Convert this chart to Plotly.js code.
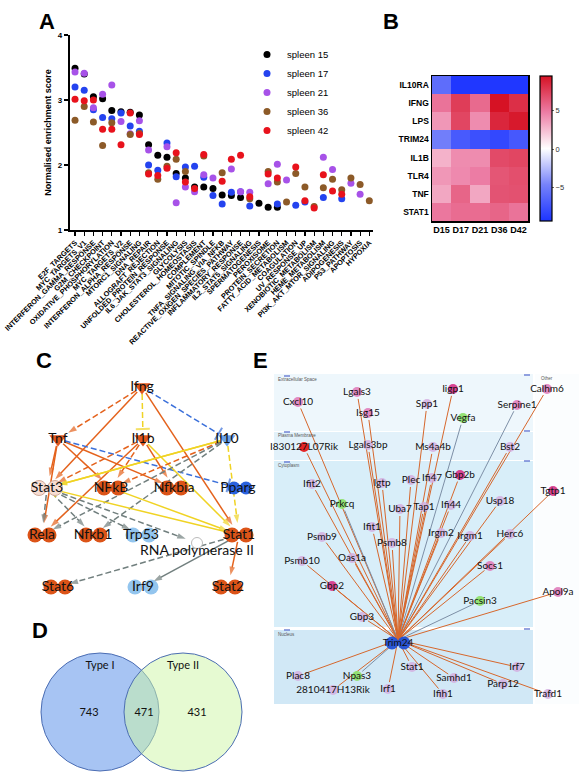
<!DOCTYPE html>
<html><head><meta charset="utf-8">
<script src="https://cdn.plot.ly/plotly-3.0.1.min.js"></script>
<style>html,body{margin:0;padding:0;background:#fff}</style>
</head><body><div id="chart" style="width:579px;height:784px"></div>
<script>
// ---------------- Panel A data ----------------
const hallmarks = ['E2F_TARGETS','MYC_TARGETS_V1','INTERFERON_GAMMA_RESPONSE','G2M_CHECKPOINT','OXIDATIVE_PHOSPHORYLATION','MYC_TARGETS_V2','INTERFERON_ALPHA_RESPONSE','MTORC1_SIGNALING','DNA_REPAIR','ALLOGRAFT_REJECTION','UNFOLDED_PROTEIN_RESPONSE','IL6_JAK_STAT3_SIGNALING','GLYCOLYSIS','CHOLESTEROL_HOMEOSTASIS','COMPLEMENT','MITOTIC_SPINDLE','TNFA_SIGNALING_VIA_NFKB','REACTIVE_OXIGEN_SPECIES_PATHWAY','INFLAMMATORY_RESPONSE','IL2_STAT5_SIGNALING','SPERMATOGENESIS','PEROXISOME','PROTEIN_SECRETION','FATTY_ACID_METABOLISM','COAGULATION','UV_RESPONSE_UP','XENOBIOTIC_METABOLISM','HEME_METABOLISM','PI3K_AKT_MTOR_SIGNALING','ADIPOGENESIS','P53_PATHWAY','APOPTOSIS','HYPOXIA'];
const spleen15 = [3.49,3.40,3.05,3.02,2.84,2.82,2.81,2.77,2.31,2.15,2.12,1.87,1.80,1.66,1.66,1.64,1.54,1.53,1.50,null,1.41,1.35,1.35,null,null,null,null,null,null,null,null,null,null];
const spleen17 = [3.20,3.15,2.85,2.73,2.71,2.80,2.60,2.52,2.00,1.92,2.34,1.82,1.97,1.98,1.81,1.53,1.40,1.58,1.59,1.37,null,null,1.40,null,1.38,1.43,null,1.50,null,1.48,null,null,null];
const spleen21 = [3.43,3.41,2.88,3.09,3.23,2.67,2.48,2.68,2.23,null,2.28,1.42,1.66,1.59,1.85,1.80,null,1.94,1.59,1.58,null,1.71,2.01,1.77,null,null,null,2.12,1.93,null,1.72,1.55,null];
const spleen36 = [2.69,2.90,2.66,2.30,2.65,null,2.47,2.49,1.88,1.78,1.98,2.09,1.90,null,2.14,null,1.88,null,null,1.48,null,1.90,1.74,1.43,1.87,1.66,1.36,1.65,1.78,1.62,1.80,1.70,1.45];
const spleen42 = [3.01,2.99,3.00,2.55,2.55,2.31,2.80,2.47,1.86,1.84,1.95,2.19,1.74,1.64,2.16,null,1.75,2.09,2.15,1.51,null,1.86,1.80,null,1.97,1.45,1.34,1.85,1.60,1.55,null,null,null];
const seriesNames = ['spleen 15','spleen 17','spleen 21','spleen 36','spleen 42'];
const seriesValues = [spleen15, spleen17, spleen21, spleen36, spleen42];
const seriesColors = ['#000000','#2443ef','#a752e8','#8c5a28','#e8121c'];

// ---------------- Panel B data ----------------
const genes = ['IL10RA','IFNG','LPS','TRIM24','IL1B','TLR4','TNF','STAT1'];
const days = ['D15','D17','D21','D36','D42'];
const zIL10RA = [-6.0,-9.3,-9.3,-9.3,-9.3];
const zIFNG   = [5.2,7.6,5.6,9.5,8.2];
const zLPS    = [3.8,7.2,4.2,8.6,9.2];
const zTRIM24 = [-5.0,-7.2,-7.8,-8.3,-7.3];
const zIL1B   = [2.8,4.2,4.2,7.0,7.2];
const zTLR4   = [3.8,4.3,4.8,6.5,6.8];
const zTNF    = [3.2,5.8,3.2,6.6,6.7];
const zSTAT1  = [5.0,5.5,5.5,5.8,5.2];

// ---------------- Panel C network ----------------
const cNodeNames = ['Ifng','Tnf','Il1b','Il10','Stat3','NFkB','Nfkbia','Pparg','Rela','Nfkb1','Trp53','Stat1','RNA polymerase II','Stat6','Irf9','Stat2'];
const cNodeX = [142,58,143,227,47,111,174,238,42,93,141,239,197,58,143,228];
const cNodeY = [387,439,439,439,488,488,488,488,535,535,535,535,543,587,587,587];
const cNodeKind = ['cytoO','cytoO','cytoO','cytoB','tfP','tfO','tfO','recB','tfO','tfO','tfLB','tfO','pol','tfO','tfLB','tfO'];
const cEdgeFrom = ['Ifng','Ifng','Ifng','Ifng','Ifng','Tnf','Tnf','Tnf','Tnf','Tnf','Il1b','Il1b','Il1b','Il1b','Il1b','Il10','Il10','Il10','Il10','Il10','Il10','Stat3','Stat3','Stat3','Stat3','Stat1','NFkB','Stat1','Stat1','Stat1'];
const cEdgeTo   = ['Tnf','Il1b','Il10','Stat3','Stat1','Stat3','Rela','NFkB','Nfkbia','Pparg','Stat3','NFkB','Rela','Nfkbia','Stat1','Stat3','NFkB','Rela','Nfkb1','Stat1','Stat3','Rela','Nfkb1','Trp53','RNA polymerase II','Stat3','Stat1','Stat6','Irf9','Stat2'];
const cEdgeStyle= ['od>','yd|','bd|','os>','os>','os>','os>','os>','os>','bd|','od>','od>','os>','os>','ys>','ys>','od>','gd>','gd>','yd>','ys>','gd>','gd>','gd>','gd>','ys|','ys>','gd>','gs>','os>'];

// ---------------- Panel D venn ----------------
const vennSets = ['Type I','Type II'];
const vennCounts = [743, 471, 431];

// ---------------- Panel E network ----------------
const eNodeNames = ['Cxcl10','Lgals3','Isg15','Iigp1','Spp1','Vegfa','Serpine1','Calhm6','I830127L07Rik','Lgals3bp','Ms4a4b','Bst2','Ifit2','Igtp','Plec','Ifi47','Gbp2b','Tgtp1','Prkcq','Uba7','Tap1','Ifi44','Usp18','Ifit1','Psmb9','Psmb8','Irgm2','Irgm1','Herc6','Psmb10','Oas1a','Socs1','Gbp2','Apol9a','Pacsin3','Gbp3','Trim24','Plac8','Npas3','2810417H13Rik','Irf1','Stat1','Samhd1','Ifih1','Irf7','Parp12','Trafd1'];
const eNodeX = [298,357,368,453,427,463,517,547,304,368,433,510,312,382,411,432,460,553,342,400,424,451,500,372,322,392,441,470,510,302,352,490,332,558,480,362,398,298,357,333,388,412,454,443,517,503,548];
const eNodeY = [402,392,413,389,404,418,405,389,447,445,447,447,484,483,480,478,475,491,504,509,507,505,501,527,537,543,533,536,534,561,558,566,586,592,601,617,643,676,676,690,689,667,678,694,667,684,694];
const eNodeKind = ['k','k','k','m','p','g','k','k','r','p','p','p','p','p','p','p','m','m','g','p','p','p','p','p','p','p','p','p','p','p','p','k','m','k','g','p','b','p','g','p','p','p','p','p','p','p','p'];
const eGreyEdges = ['Vegfa','Serpine1','Pacsin3','Prkcq','Npas3'];

// ---------------- build ----------------
const traces = [];
seriesNames.forEach((n,i)=>{
  traces.push({type:'scatter', mode:'markers', name:n, x:hallmarks, y:seriesValues[i],
    marker:{color:seriesColors[i], size:7}, xaxis:'x', yaxis:'y', cliponaxis:false});
});
traces.push({type:'heatmap', x:days, y:genes, z:[zIL10RA,zIFNG,zLPS,zTRIM24,zIL1B,zTLR4,zTNF,zSTAT1],
  xaxis:'x2', yaxis:'y2', zmin:-9.5, zmax:9.5, showlegend:false,
  colorscale:[[0,'rgb(28,52,255)'],[0.25,'rgb(118,130,250)'],[0.5,'rgb(255,255,255)'],[0.75,'rgb(236,125,165)'],[1,'rgb(214,18,36)']],
  colorbar:{x:540/579, xanchor:'left', xpad:0, ypad:0, y:1-149/784, yanchor:'middle', len:145/784, lenmode:'fraction',
    thickness:12, outlinewidth:1.2, outlinecolor:'#000', tickvals:[-5,0,5], ticks:'outside', ticklen:2, tickcolor:'#666',
    tickfont:{size:7.5, color:'#333'}}});

function shorten(x1,y1,x2,y2,d1,d2){
  const dx=x2-x1, dy=y2-y1, L=Math.hypot(dx,dy);
  return [x1+dx*d1/L, y1+dy*d1/L, x2-dx*d2/L, y2-dy*d2/L];
}
const cColor = {o:'#e4621c', y:'#f0d324', b:'#3b70da', g:'#717f7e'};
const cIdx = n => cNodeNames.indexOf(n);
cEdgeFrom.forEach((f,i)=>{
  const a=cIdx(f), b=cIdx(cEdgeTo[i]), st=cEdgeStyle[i];
  const col=cColor[st[0]], dash=st[1]==='d'?'6px,3px':'solid', end=st[2];
  const s=shorten(cNodeX[a],cNodeY[a],cNodeX[b],cNodeY[b],7, end==='>'?12:10);
  traces.push({type:'scatter', mode:'lines+markers', x:[s[0],s[2]], y:[s[1],s[3]], xaxis:'x3', yaxis:'y3',
    showlegend:false, hoverinfo:'skip', line:{color:col, width:1.5, dash:dash},
    marker:{symbol:['circle', end==='>'?'arrow':'line-ew'], size:[0, end==='>'?9:10], angleref:'previous',
      color:col, line:{color:col, width:[0, end==='>'?0:2]}}});
});
// C glyphs
const glyphStyle = {
  cytoO:{dx:[0], sym:'triangle-down', size:15, color:'#e0561c'},
  cytoB:{dx:[0], sym:'triangle-down', size:15, color:'#6aa1e8'},
  tfO:{dx:[-7,7], sym:'circle', size:15, color:'#dc5418'},
  tfP:{dx:[-8,8], sym:'circle', size:15, color:'#f7ddd2'},
  tfLB:{dx:[-8,8], sym:'circle', size:15, color:'#93c5ee'},
  recB:{dx:[-4,8], sym:'circle', size:13, color:'#2a62de'},
  pol:{dx:[0], sym:'circle', size:11, color:'#ffffff'}
};
Object.keys(glyphStyle).forEach(k=>{
  const g=glyphStyle[k], xs=[], ys=[];
  cNodeKind.forEach((kk,i)=>{ if(kk===k){ g.dx.forEach(d=>{xs.push(cNodeX[i]+d); ys.push(cNodeY[i]);}); }});
  traces.push({type:'scatter', mode:'markers', x:xs, y:ys, xaxis:'x3', yaxis:'y3', showlegend:false, hoverinfo:'skip',
    marker:{symbol:g.sym, size:g.size, color:g.color, line:{color: k==='pol'?'#bbbbbb':(k==='tfP'?'#d2aa9a':g.color), width:k==='pol'||k==='tfP'?1:0}}});
});
traces.push({type:'scatter', mode:'text', x:cNodeX, y:cNodeY.map((y,i)=>cNodeNames[i]==='RNA polymerase II'?y+8:y),
  text:cNodeNames, xaxis:'x3', yaxis:'y3', showlegend:false, hoverinfo:'skip',
  textfont:{family:'Lato, Noto Sans, sans-serif', size:14, color:'#111'}});

// D venn text
traces.push({type:'scatter', mode:'text', x:[100,183,89,144,197], y:[666,666,713,713,713],
  text:[vennSets[0], vennSets[1]].concat(vennCounts.map(String)), xaxis:'x3', yaxis:'y3', showlegend:false, hoverinfo:'skip',
  textfont:{family:'Lato, Noto Sans, sans-serif', size:11, color:'#111'}});

// E edges
const ti = eNodeNames.indexOf('Trim24');
eNodeNames.forEach((n,i)=>{
  if(i===ti) return;
  const s=shorten(eNodeX[ti],eNodeY[ti]-3,eNodeX[i],eNodeY[i],0,7);
  const col = eGreyEdges.includes(n)?'#7d8fa6':'#d6672c';
  traces.push({type:'scatter', mode:'lines', x:[s[0],s[2]], y:[s[1],s[3]], xaxis:'x3', yaxis:'y3',
    showlegend:false, hoverinfo:'skip', line:{color:col, width:1}});
});
const eGlyph = {p:'#d3afe0', k:'#e084bf', m:'#d63a8c', g:'#8fe06e', r:'#e41a1c', b:'#2150d6'};
Object.keys(eGlyph).forEach(k=>{
  const xs=[], ys=[];
  eNodeKind.forEach((kk,i)=>{ if(kk===k){ if(k==='b'){xs.push(eNodeX[i]-6, eNodeX[i]+6); ys.push(eNodeY[i],eNodeY[i]);} else {xs.push(eNodeX[i]); ys.push(eNodeY[i]);} }});
  traces.push({type:'scatter', mode:'markers', x:xs, y:ys, xaxis:'x3', yaxis:'y3', showlegend:false, hoverinfo:'skip',
    marker:{symbol:'circle', size:k==='b'?13:10, color:eGlyph[k], opacity:k==='p'?0.85:0.95}});
});
traces.push({type:'scatter', mode:'text', x:eNodeX, y:eNodeY, text:eNodeNames, xaxis:'x3', yaxis:'y3',
  showlegend:false, hoverinfo:'skip', textfont:{family:'Lato, Noto Sans, sans-serif', size:10, color:'#111'}});

const shapes = [
  {type:'circle', xref:'x3', yref:'y3', x0:41, x1:159, y0:653, y1:771, fillcolor:'#a7c4f3', line:{color:'#4b6db3', width:1}, layer:'below'},
  {type:'circle', xref:'x3', yref:'y3', x0:124, x1:242, y0:653, y1:771, fillcolor:'rgba(205,245,165,0.5)', line:{color:'#4b6db3', width:1}, layer:'below'},
  {type:'rect', xref:'x3', yref:'y3', x0:274, x1:533, y0:374, y1:431, fillcolor:'#eef7fc', line:{width:0}, layer:'below'},
  {type:'rect', xref:'x3', yref:'y3', x0:274, x1:533, y0:432, y1:460, fillcolor:'#e2f1fa', line:{width:0}, layer:'below'},
  {type:'rect', xref:'x3', yref:'y3', x0:274, x1:533, y0:461, y1:627, fillcolor:'#d8eef9', line:{width:0}, layer:'below'},
  {type:'rect', xref:'x3', yref:'y3', x0:274, x1:533, y0:630, y1:704, fillcolor:'#d1e8f6', line:{width:0}, layer:'below'},
  {type:'rect', xref:'x3', yref:'y3', x0:535, x1:579, y0:374, y1:704, fillcolor:'#fbfdfe', line:{width:0}, layer:'below'}
];
[375,431,461,629].forEach(y=>{
  shapes.push({type:'line', xref:'x3', yref:'y3', x0:524, x1:530, y0:y, y1:y, line:{color:'#5d72d0', width:1.3}, layer:'below'});
  shapes.push({type:'line', xref:'x3', yref:'y3', x0:284, x1:290, y0:y+1, y1:y+1, line:{color:'#5d72d0', width:1.3}, layer:'below'});
});

const letter = (t,x,y)=>({text:t, x:x, y:y, xref:'x3', yref:'y3', showarrow:false, font:{family:'Liberation Sans, Arial, sans-serif', size:22, weight:'bold', color:'#000'}});
const tiny = (t,x,y)=>({text:t, x:x, y:y, xref:'x3', yref:'y3', xanchor:'left', showarrow:false, font:{family:'Liberation Sans, Arial, sans-serif', size:4.5, color:'#555'}});
const annotations = [letter('A',47,21), letter('B',391,21), letter('C',44,360), letter('D',40,630), letter('E',260,360),
  tiny('Extracellular Space',276,379), tiny('Plasma Membrane',276,435), tiny('Cytoplasm',276,465), tiny('Nucleus',276,634), tiny('Other',539,378)];

const layout = {
  width:579, height:784, autosize:false, margin:{l:0,r:0,t:0,b:0},
  paper_bgcolor:'#ffffff', plot_bgcolor:'rgba(0,0,0,0)',
  font:{family:'Liberation Sans, Arial, sans-serif', color:'#000'},
  showlegend:true,
  legend:{x:247/579, y:1-40/784, xanchor:'left', yanchor:'top', font:{size:9.5}, bgcolor:'rgba(0,0,0,0)', tracegroupgap:0, itemsizing:'trace'},
  xaxis:{domain:[69.5/579, 373/579], anchor:'y', type:'category', categoryorder:'array', categoryarray:hallmarks, range:[-0.6,32.4],
    showline:true, linecolor:'#000', linewidth:1.6, ticks:'outside', ticklen:4, tickwidth:1.2, tickcolor:'#000',
    tickangle:-45, tickfont:{size:7.3, weight:'bold'}, showgrid:false, zeroline:false, fixedrange:true},
  yaxis:{domain:[1-230/784, 1-35/784], anchor:'x', range:[1,4], tickvals:[1,2,3,4], showline:true, linecolor:'#000', linewidth:1.6,
    ticks:'outside', ticklen:4, tickwidth:1.2, tickcolor:'#000', tickfont:{size:8, weight:'bold'},
    title:{text:'Normalised enrichment score', font:{size:9, weight:'bold'}, standoff:4}, showgrid:false, zeroline:false, fixedrange:true},
  xaxis2:{domain:[432/579, 528/579], anchor:'y2', type:'category', showline:true, mirror:true, linecolor:'#000', linewidth:1.5,
    ticks:'', tickangle:0, tickfont:{size:9, weight:'bold'}, showgrid:false, zeroline:false, fixedrange:true},
  yaxis2:{domain:[1-221/784, 1-76/784], anchor:'x2', type:'category', autorange:'reversed', showline:true, mirror:true, linecolor:'#000', linewidth:1.5,
    ticks:'', tickfont:{size:8.5, weight:'bold'}, showgrid:false, zeroline:false, fixedrange:true},
  xaxis3:{domain:[0,1], anchor:'y3', range:[0,579], visible:false, fixedrange:true},
  yaxis3:{domain:[0,1], anchor:'x3', range:[784,0], visible:false, fixedrange:true},
  shapes:shapes, annotations:annotations
};
Plotly.newPlot('chart', traces, layout, {displayModeBar:false, staticPlot:true});
</script></body></html>
